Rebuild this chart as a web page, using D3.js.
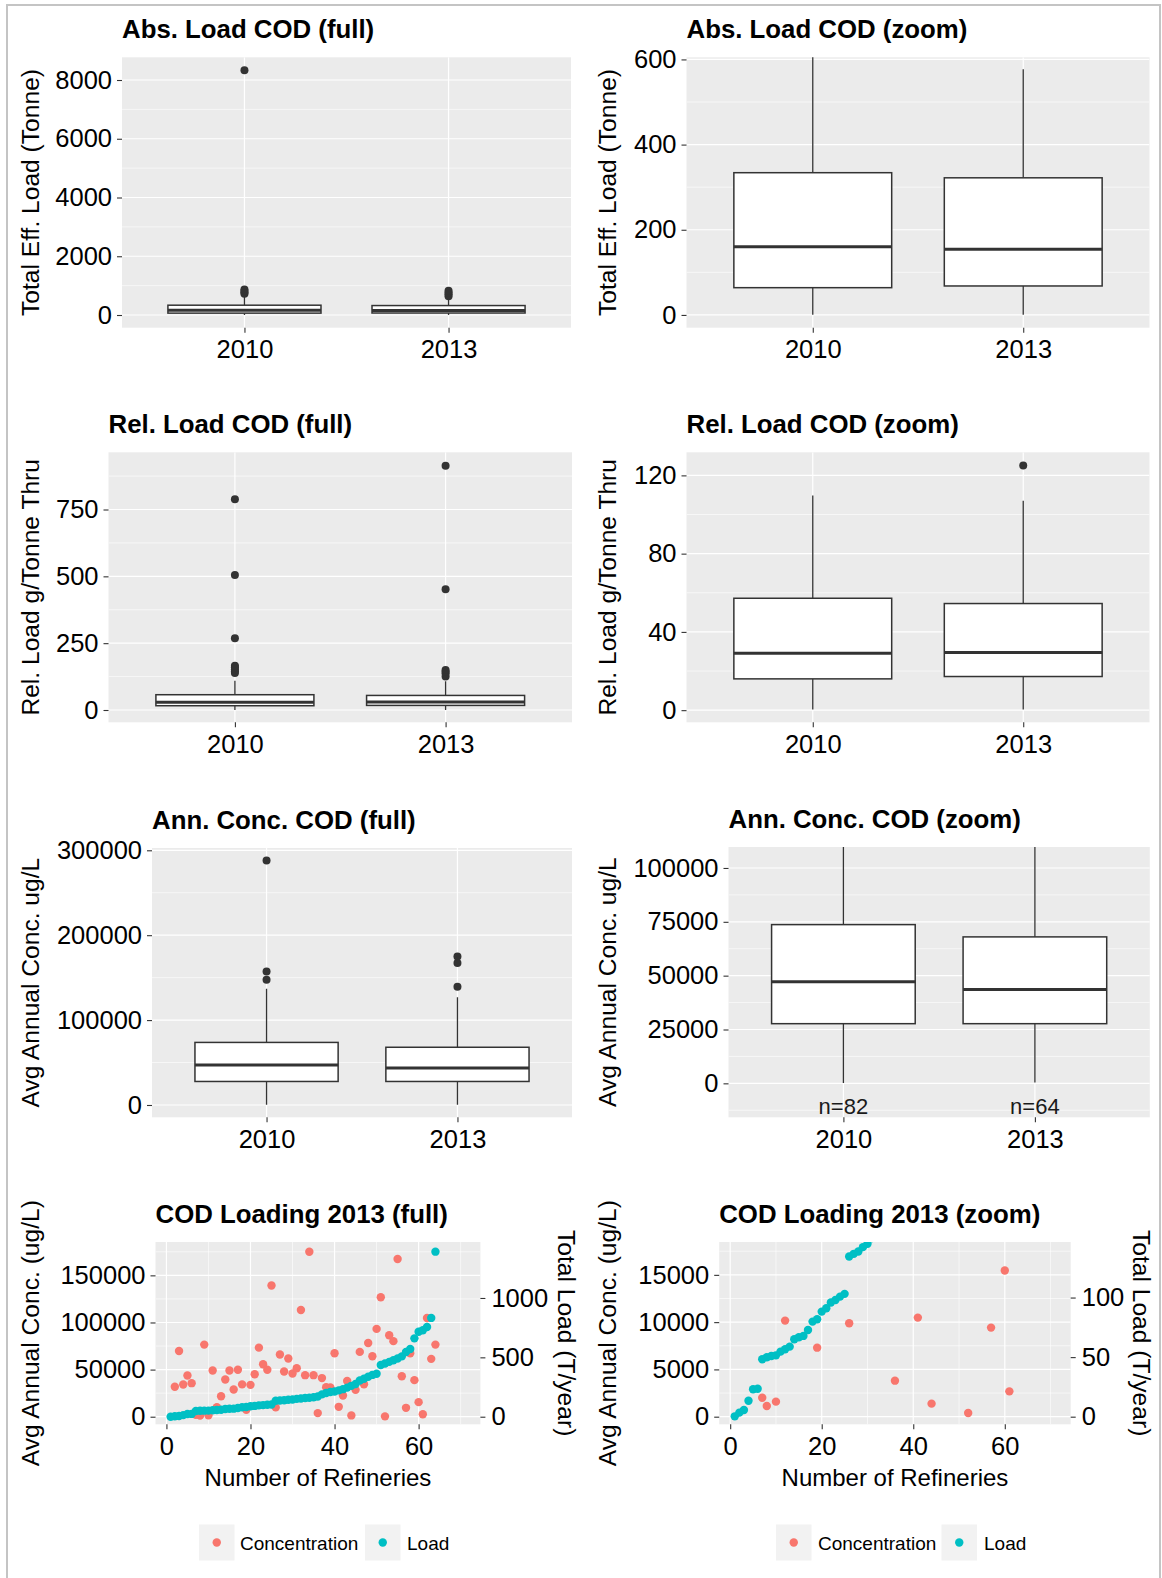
<!DOCTYPE html>
<html><head><meta charset="utf-8">
<script src="https://cdn.jsdelivr.net/npm/d3@7"></script>
<style>
body{margin:0;background:#fff;}
svg{display:block;}
</style></head><body>
<svg id="c" width="1162" height="1578"></svg>
<script>
// ---------------- DATA ----------------
const years = ["2010", "2013"];

// Abs. Load COD (Tonne) – box statistics per year
const absLoadLow    = [0.4, 0.6];
const absLoadQ1     = [64, 68];
const absLoadMedian = [160, 154];
const absLoadQ3     = [334, 322];
const absLoadHigh   = [660, 577];
const absLoadOut2010 = [722, 768, 815, 868, 8330];
const absLoadOut2013 = [640, 705, 760, 828];

// Rel. Load COD (g/Tonne Thru)
const relLoadLow    = [0.3, 0.3];
const relLoadQ1     = [16.0, 17.2];
const relLoadMedian = [29.1, 29.5];
const relLoadQ3     = [57.2, 54.5];
const relLoadHigh   = [109.7, 107.1];
const relLoadOut2010 = [138, 145, 152, 160, 166, 268, 505, 788];
const relLoadOut2013 = [125, 137, 143, 150, 452, 914];

// Ann. Conc. COD (ug/L)
const concLow    = [200, 390];
const concQ1     = [27700, 27700];
const concMedian = [47200, 43600];
const concQ3     = [73700, 68000];
const concHigh   = [136800, 126800];
const concOut2010 = [147400, 157200, 288000];
const concOut2013 = [139200, 167300, 174800];
const concN = ["n=82", "n=64"];

// COD Loading 2013 – refineries 1..64 ordered by load
const load2013 = [0.3, 3.4, 5.6, 13.4, 23.0, 23.5, 48.2, 49.9, 51.0, 51.5,
  54.6, 56.6, 58.8, 65.0, 66.7, 67.8, 72.8, 79.8, 81.8, 88.2,
  91.0, 95.8, 98.0, 100.8, 103.1, 134.4, 136.7, 138.6, 142.3, 145.1,
  150, 153, 157, 160, 164, 170, 188, 200, 208, 212,
  222, 232, 245, 260, 275, 305, 320, 336, 352, 362,
  436, 448, 462, 475, 490, 508, 545, 570, 660, 715,
  728, 755, 832, 1390];
const conc2013 = [null, 31760, 69700, 34200, 43700, 35600, 2010, 1130, 76500, 1590,
  49000, 10160, 21700, 39500, 49000, 28900, 49900, 34300, 7300, 33800,
  45000, 73300, 55600, 49900, 139300, 9880, 66000, 48000, 61700, 45900,
  51500, 113300, 44100, 175000, 44100, 3810, 41000, 31200, 31000, 67300,
  10480, 22500, 37900, 1380, 28500, 68800, 34500, 78300, 64200, 93200,
  126800, 390, 86500, 80200, 167400, 43000, 9420, 67400, 38800, 15460,
  2680, 104700, 61400, 76500];
const loadToConc = 126; // secondary axis: 1 T/year == 126 ug/L
const seriesNames = ["Concentration", "Load"];
const seriesColors = ["#F8766D", "#00BFC4"];

// tick values
const absFullTicks = [0, 2000, 4000, 6000, 8000];
const absZoomTicks = [0, 200, 400, 600];
const relFullTicks = [0, 250, 500, 750];
const relZoomTicks = [0, 40, 80, 120];
const concFullTicks = [0, 100000, 200000, 300000];
const concZoomTicks = [0, 25000, 50000, 75000, 100000];
const scatXTicks = [0, 20, 40, 60];
const scatFullYTicks = [0, 50000, 100000, 150000];
const scatFullLoadTicks = [0, 500, 1000];
const scatZoomYTicks = [0, 5000, 10000, 15000];
const scatZoomLoadTicks = [0, 50, 100];

// ---------------- DRAWING ----------------
const FONT = '"Liberation Sans", Arial, Helvetica, sans-serif';
const svg = d3.select("#c");
svg.append("rect").attr("x", 7).attr("y", 5).attr("width", 1153).attr("height", 1620)
  .attr("fill", "none").attr("stroke", "#c4c4c4").attr("stroke-width", 2);

const TICK_FS = 25.5, TITLE_FS = 25.8, AXT_FS = 24.6, XT_FS = 24;
let clipN = 0;

function minorOf(ticks, dom) {
  const step = ticks[1] - ticks[0], out = [];
  const lo = Math.min(...dom), hi = Math.max(...dom);
  for (let v = ticks[0] - step / 2; v <= ticks[ticks.length - 1] + step / 2 + 1e-9; v += step)
    if (v >= lo && v <= hi) out.push(v);
  return out;
}
function base(o) {
  const g = svg.append("g");
  g.append("rect").attr("x", o.x0).attr("y", o.y0).attr("width", o.x1 - o.x0)
    .attr("height", o.y1 - o.y0).attr("fill", "#EBEBEB");
  const id = "clip" + (clipN++);
  svg.append("clipPath").attr("id", id).append("rect").attr("x", o.x0).attr("y", o.y0)
    .attr("width", o.x1 - o.x0).attr("height", o.y1 - o.y0);
  const plot = g.append("g").attr("clip-path", `url(#${id})`);
  g.append("text").attr("x", o.x0).attr("y", o.y0 - 19.4).attr("font-family", FONT)
    .attr("font-size", TITLE_FS).attr("font-weight", "bold").attr("fill", "#000").text(o.title);
  g.append("text").attr("transform", `translate(${o.yTitleX + 8.8},${(o.y0 + o.y1) / 2}) rotate(-90)`)
    .attr("text-anchor", "middle").attr("font-family", FONT).attr("font-size", AXT_FS)
    .attr("fill", "#000").text(o.yTitle);
  return {g, plot};
}
function styleAxis(ax) {
  ax.select(".domain").remove();
  ax.selectAll(".tick line").attr("stroke", "#333").attr("stroke-width", 1.1);
  ax.selectAll(".tick text").attr("font-size", TICK_FS).attr("fill", "#000").attr("font-family", FONT);
}
function hLines(plot, vals, y, o, w) {
  plot.selectAll(null).data(vals).enter().append("line")
    .attr("x1", o.x0).attr("x2", o.x1).attr("y1", d => y(d)).attr("y2", d => y(d))
    .attr("stroke", "#fff").attr("stroke-width", w);
}
function vLines(plot, vals, x, o, w) {
  plot.selectAll(null).data(vals).enter().append("line")
    .attr("y1", o.y0).attr("y2", o.y1).attr("x1", d => x(d)).attr("x2", d => x(d))
    .attr("stroke", "#fff").attr("stroke-width", w);
}

function boxPanel(o) {
  const {g, plot} = base(o);
  const y = d3.scaleLinear().domain(o.yDomain).range([o.y1, o.y0]);
  const x = d3.scaleLinear().domain([0.4, 2.6]).range([o.x0, o.x1]);
  hLines(plot, minorOf(o.yTicks, o.yDomain), y, o, 0.6);
  hLines(plot, o.yTicks, y, o, 1.2);
  vLines(plot, [1, 2], x, o, 1.2);
  const stats = years.map((yr, i) => ({pos: i + 1, low: o.low[i], q1: o.q1[i], med: o.med[i],
    q3: o.q3[i], high: o.high[i], out: o.out[i]}));
  const bw = 0.75, col = "#333333";
  const b = plot.selectAll(null).data(stats).enter().append("g");
  b.append("line").attr("x1", d => x(d.pos)).attr("x2", d => x(d.pos))
    .attr("y1", d => y(d.q3)).attr("y2", d => y(d.high)).attr("stroke", col).attr("stroke-width", 1.3);
  b.append("line").attr("x1", d => x(d.pos)).attr("x2", d => x(d.pos))
    .attr("y1", d => y(d.q1)).attr("y2", d => y(d.low)).attr("stroke", col).attr("stroke-width", 1.3);
  b.append("rect").attr("x", d => x(d.pos - bw / 2)).attr("width", d => x(d.pos + bw / 2) - x(d.pos - bw / 2))
    .attr("y", d => y(d.q3)).attr("height", d => y(d.q1) - y(d.q3))
    .attr("fill", "#fff").attr("stroke", col).attr("stroke-width", 1.5);
  b.append("line").attr("x1", d => x(d.pos - bw / 2)).attr("x2", d => x(d.pos + bw / 2))
    .attr("y1", d => y(d.med)).attr("y2", d => y(d.med)).attr("stroke", col).attr("stroke-width", 3);
  b.selectAll("circle").data(d => d.out.map(v => ({pos: d.pos, v}))).enter().append("circle")
    .attr("cx", d => x(d.pos)).attr("cy", d => y(d.v)).attr("r", 4).attr("fill", col);
  if (o.nLabels) {
    g.selectAll(null).data(o.nLabels).enter().append("text")
      .attr("x", (d, i) => x(i + 1)).attr("y", y(o.nY) + 6).attr("text-anchor", "middle")
      .attr("font-family", FONT).attr("font-size", 22).attr("fill", "#1a1a1a").text(d => d);
  }
  const ay = g.append("g").attr("transform", `translate(${o.x0},0)`)
    .call(d3.axisLeft(y).tickValues(o.yTicks).tickSize(5).tickPadding(5).tickFormat(d3.format("d")));
  styleAxis(ay);
  const axx = g.append("g").attr("transform", `translate(0,${o.y1})`)
    .call(d3.axisBottom(x).tickValues([1, 2]).tickSize(5).tickPadding(7.5).tickFormat(d => years[d - 1]));
  styleAxis(axx);
}

function scatterPanel(o) {
  const {g, plot} = base(o);
  const x = d3.scaleLinear().domain(o.xDomain).range([o.x0, o.x1]);
  const y = d3.scaleLinear().domain(o.yDomain).range([o.y1, o.y0]);
  const yR = d3.scaleLinear().domain(o.yDomain.map(v => v / loadToConc)).range([o.y1, o.y0]);
  hLines(plot, minorOf(o.yTicks, o.yDomain), y, o, 0.6);
  vLines(plot, minorOf(scatXTicks, o.xDomain), x, o, 0.6);
  hLines(plot, o.yTicks, y, o, 1.2);
  vLines(plot, scatXTicks, x, o, 1.2);
  const concPts = conc2013.map((v, i) => ({n: i + 1, v})).filter(d => d.v !== null);
  const loadPts = load2013.map((v, i) => ({n: i + 1, v}));
  plot.selectAll(null).data(concPts).enter().append("circle")
    .attr("cx", d => x(d.n)).attr("cy", d => y(d.v)).attr("r", 4.2).attr("fill", seriesColors[0]);
  plot.selectAll(null).data(loadPts).enter().append("circle")
    .attr("cx", d => x(d.n)).attr("cy", d => yR(d.v)).attr("r", 4.2).attr("fill", seriesColors[1]);
  const ay = g.append("g").attr("transform", `translate(${o.x0},0)`)
    .call(d3.axisLeft(y).tickValues(o.yTicks).tickSize(5).tickPadding(5).tickFormat(d3.format("d")));
  styleAxis(ay);
  const ar = g.append("g").attr("transform", `translate(${o.x1},0)`)
    .call(d3.axisRight(yR).tickValues(o.loadTicks).tickSize(5).tickPadding(6).tickFormat(d3.format("d")));
  styleAxis(ar);
  const axx = g.append("g").attr("transform", `translate(0,${o.y1})`)
    .call(d3.axisBottom(x).tickValues(scatXTicks).tickSize(5).tickPadding(7.5).tickFormat(d3.format("d")));
  styleAxis(axx);
  g.append("text").attr("x", (o.x0 + o.x1) / 2).attr("y", 1485.6).attr("text-anchor", "middle")
    .attr("font-family", FONT).attr("font-size", XT_FS).attr("fill", "#000").text("Number of Refineries");
  g.append("text").attr("transform", `translate(${o.rTitleX - 8.8},${(o.y0 + o.y1) / 2}) rotate(90)`)
    .attr("text-anchor", "middle").attr("font-family", FONT).attr("font-size", AXT_FS)
    .attr("fill", "#000").text("Total Load (T/year)");
  // legend
  const lg = g.selectAll(null).data(seriesNames).enter().append("g");
  lg.append("rect").attr("x", (d, i) => o.legKeyX[i]).attr("y", 1524.5).attr("width", 35.5).attr("height", 36)
    .attr("fill", "#F2F2F2");
  lg.append("circle").attr("cx", (d, i) => o.legKeyX[i] + 17.75).attr("cy", 1542.5).attr("r", 4.2)
    .attr("fill", (d, i) => seriesColors[i]);
  lg.append("text").attr("x", (d, i) => o.legTextX[i]).attr("y", 1549.5).attr("font-family", FONT)
    .attr("font-size", 19).attr("fill", "#000").text(d => d);
}

// Row 1
boxPanel({x0: 122, x1: 571, y0: 57.3, y1: 327.7, yDomain: [-432, 8773], yTicks: absFullTicks,
  title: "Abs. Load COD (full)", yTitle: "Total Eff. Load (Tonne)", yTitleX: 30,
  low: absLoadLow, q1: absLoadQ1, med: absLoadMedian, q3: absLoadQ3, high: absLoadHigh,
  out: [absLoadOut2010, absLoadOut2013]});
boxPanel({x0: 686.5, x1: 1149.5, y0: 57.3, y1: 327.7, yDomain: [-30, 605], yTicks: absZoomTicks,
  title: "Abs. Load COD (zoom)", yTitle: "Total Eff. Load (Tonne)", yTitleX: 607,
  low: absLoadLow, q1: absLoadQ1, med: absLoadMedian, q3: absLoadQ3, high: absLoadHigh,
  out: [absLoadOut2010, absLoadOut2013]});
// Row 2
boxPanel({x0: 108.5, x1: 572, y0: 452.3, y1: 722.3, yDomain: [-46, 964], yTicks: relFullTicks,
  title: "Rel. Load COD (full)", yTitle: "Rel. Load g/Tonne Thru", yTitleX: 30,
  low: relLoadLow, q1: relLoadQ1, med: relLoadMedian, q3: relLoadQ3, high: relLoadHigh,
  out: [relLoadOut2010, relLoadOut2013]});
boxPanel({x0: 686.5, x1: 1149.5, y0: 452.3, y1: 722.3, yDomain: [-6.2, 131.8], yTicks: relZoomTicks,
  title: "Rel. Load COD (zoom)", yTitle: "Rel. Load g/Tonne Thru", yTitleX: 607,
  low: relLoadLow, q1: relLoadQ1, med: relLoadMedian, q3: relLoadQ3, high: relLoadHigh,
  out: [relLoadOut2010, relLoadOut2013]});
// Row 3
boxPanel({x0: 152, x1: 572, y0: 848, y1: 1117.3, yDomain: [-14500, 302700], yTicks: concFullTicks,
  title: "Ann. Conc. COD (full)", yTitle: "Avg Annual Conc. ug/L", yTitleX: 30,
  low: concLow, q1: concQ1, med: concMedian, q3: concQ3, high: concHigh,
  out: [concOut2010, concOut2013]});
boxPanel({x0: 728.5, x1: 1149.8, y0: 847, y1: 1117.3, yDomain: [-15770, 109740], yTicks: concZoomTicks,
  title: "Ann. Conc. COD (zoom)", yTitle: "Avg Annual Conc. ug/L", yTitleX: 607,
  low: concLow, q1: concQ1, med: concMedian, q3: concQ3, high: concHigh,
  out: [concOut2010, concOut2013], nLabels: concN, nY: -11600});
// Row 4
scatterPanel({x0: 155.5, x1: 480.4, y0: 1242, y1: 1424.3, xDomain: [-2.6, 74.7], yDomain: [-8050, 185400],
  yTicks: scatFullYTicks, loadTicks: scatFullLoadTicks, title: "COD Loading 2013 (full)",
  yTitle: "Avg Annual Conc. (ug/L)", yTitleX: 30, rTitleX: 567,
  legKeyX: [199, 365], legTextX: [240, 407]});
scatterPanel({x0: 719.2, x1: 1070.7, y0: 1242, y1: 1424.3, xDomain: [-2.4, 74.4], yDomain: [-805, 18475],
  yTicks: scatZoomYTicks, loadTicks: scatZoomLoadTicks, title: "COD Loading 2013 (zoom)",
  yTitle: "Avg Annual Conc. (ug/L)", yTitleX: 607, rTitleX: 1142,
  legKeyX: [776, 941.5], legTextX: [818, 984]});
</script>
</body></html>
